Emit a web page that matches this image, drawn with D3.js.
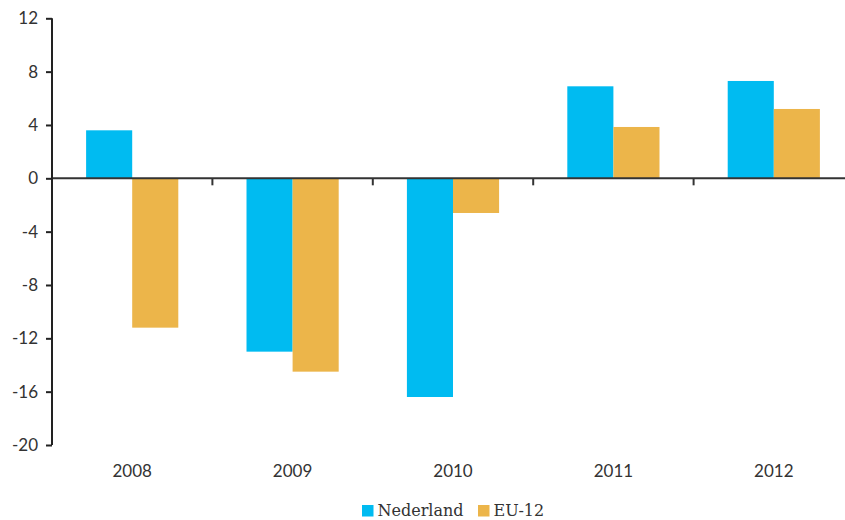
<!DOCTYPE html>
<html><head><meta charset="utf-8">
<script src="https://cdn.jsdelivr.net/npm/d3@7"></script>
<style>body{margin:0;background:#fff}svg{display:block}</style>
</head><body>
<svg id="c" width="845" height="520"></svg>
<script>
const categories = ["2008","2009","2010","2011","2012"];
const seriesNames = ["Nederland","EU-12"];
const nederland = [3.6, -13.0, -16.4, 6.9, 7.3];
const eu12 = [-11.2, -14.5, -2.6, 3.85, 5.2];
const yTicks = [12, 8, 4, 0, -4, -8, -12, -16, -20];
const colors = ["#00BBF1", "#ECB54A"];

const svg = d3.select("#c");
const x = d3.scaleBand().domain(categories).range([52, 854]).paddingInner(0).paddingOuter(0);
const y = d3.scaleLinear().domain([-20, 12]).range([445, 18.3]);
const inner = d3.scaleBand().domain(seriesNames).range([0, x.bandwidth()]).paddingInner(0).paddingOuter(0.74);
const seriesVals = [nederland, eu12];

// bars
seriesNames.forEach((s, si) => {
  svg.append("g").selectAll("rect").data(categories).join("rect")
    .attr("x", d => x(d) + inner(s))
    .attr("width", inner.bandwidth())
    .attr("y", (d, i) => y(Math.max(0, seriesVals[si][i])))
    .attr("height", (d, i) => Math.abs(y(seriesVals[si][i]) - y(0)))
    .attr("fill", colors[si]);
});

// zero axis with ticks at band boundaries
const gx = svg.append("g");
gx.append("line").attr("x1", 52).attr("x2", 845).attr("y1", y(0)).attr("y2", y(0))
  .attr("stroke", "#333").attr("stroke-width", 2);
gx.selectAll("line.t").data(categories.slice(1)).join("line").attr("class","t")
  .attr("x1", d => x(d)).attr("x2", d => x(d))
  .attr("y1", y(0)).attr("y2", y(0) + 7)
  .attr("stroke", "#333").attr("stroke-width", 2);

// category labels
svg.append("g").selectAll("text").data(categories).join("text")
  .attr("x", d => x(d) + x.bandwidth() / 2)
  .attr("y", 477)
  .attr("text-anchor", "middle")
  .attr("font-family", "Lato, sans-serif")
  .attr("font-size", 17)
  .attr("fill", "#333")
  .text(d => d);

// y axis
const yAxis = d3.axisLeft(y).tickValues(yTicks).tickSize(6).tickPadding(8).tickFormat(d => String(d));
const gy = svg.append("g").attr("transform", "translate(52,0)").call(yAxis);
gy.select(".domain").attr("stroke", "#222").attr("stroke-width", 2).attr("d", `M0,${y(-20)}V${y(12)}`);
gy.selectAll(".tick line").attr("stroke", "#222").attr("stroke-width", 2);
gy.selectAll(".tick text").attr("font-family", "Lato, sans-serif").attr("font-size", 17).attr("fill", "#333");

// legend
const legend = svg.append("g").attr("transform", "translate(362,0)");
const lx = [0, 116];
seriesNames.forEach((s, i) => {
  legend.append("rect").attr("x", lx[i]).attr("y", 505).attr("width", 11.5).attr("height", 11.5).attr("fill", colors[i]);
  legend.append("text").attr("x", lx[i] + 15.5).attr("y", 515.5)
    .attr("font-family", "'DejaVu Serif', serif").attr("font-size", 16).attr("fill", "#333").text(s);
});
</script>
</body></html>
